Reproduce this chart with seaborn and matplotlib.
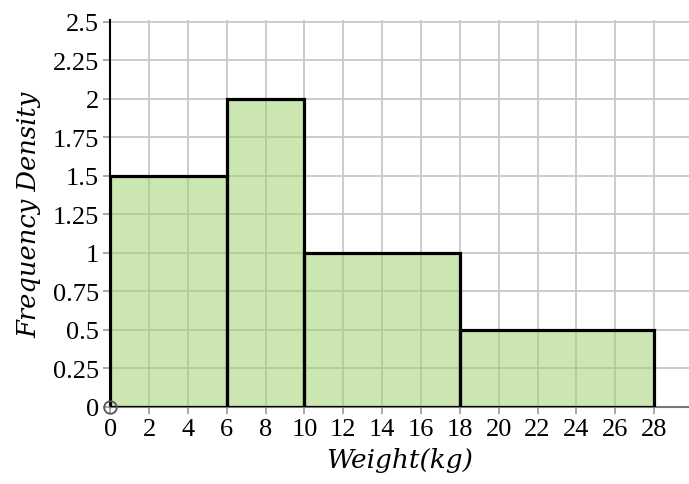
import matplotlib
matplotlib.use("Agg")
import matplotlib.pyplot as plt
import seaborn as sns

# class boundaries and frequency density
bin_edges = [0, 6, 10, 18, 28]
freq_density = [1.5, 2.0, 1.0, 0.5]
x_ticks = list(range(0, 29, 2))
y_ticks = [0, 0.25, 0.5, 0.75, 1, 1.25, 1.5, 1.75, 2, 2.25, 2.5]
y_tick_labels = ["0", "0.25", "0.5", "0.75", "1", "1.25", "1.5", "1.75", "2", "2.25", "2.5"]

sns.set_theme(style="white")
plt.rcParams["font.family"] = ["Liberation Serif", "DejaVu Serif"]

fig = plt.figure(figsize=(6.89, 4.85), dpi=100)
ax = fig.add_axes([0.16, 0.159, 0.84, 0.797])

mids = [(a + b) / 2 for a, b in zip(bin_edges[:-1], bin_edges[1:])]
sns.histplot(
    x=mids,
    weights=freq_density,
    bins=bin_edges,
    stat="count",
    color="#9ccf6a",
    alpha=0.52,
    edgecolor="black",
    linewidth=2.3,
    ax=ax,
    zorder=3,
)

ax.set_xlim(0, 29.8)
ax.set_ylim(0, 2.51)
ax.set_xticks(x_ticks)
ax.set_xticklabels([str(v) for v in x_ticks])
ax.set_yticks(y_ticks)
ax.set_yticklabels(y_tick_labels)
ax.grid(True, color="#c8c8c8", linewidth=1.3)
ax.set_axisbelow(True)

ax.tick_params(axis="both", labelsize=19, colors="#999999", labelcolor="black",
               length=5, width=1.2, direction="out", bottom=True, left=True, pad=3)

for side in ["top", "right"]:
    ax.spines[side].set_visible(False)
ax.spines["left"].set_color("black")
ax.spines["left"].set_linewidth(1.5)
ax.spines["bottom"].set_color("#777777")
ax.spines["bottom"].set_linewidth(1.5)

ax.plot([0], [0], marker="o", markersize=9, mfc="none", mec="#555555",
        mew=1.3, clip_on=False, zorder=5)

ax.set_xlabel("Weight(kg)", fontsize=19, family="DejaVu Serif", style="italic",
              color="black", labelpad=5)
ax.set_ylabel("Frequency Density", fontsize=18.5, family="DejaVu Serif", style="italic",
              color="black", labelpad=8)

fig.savefig("out.png", dpi=100)
